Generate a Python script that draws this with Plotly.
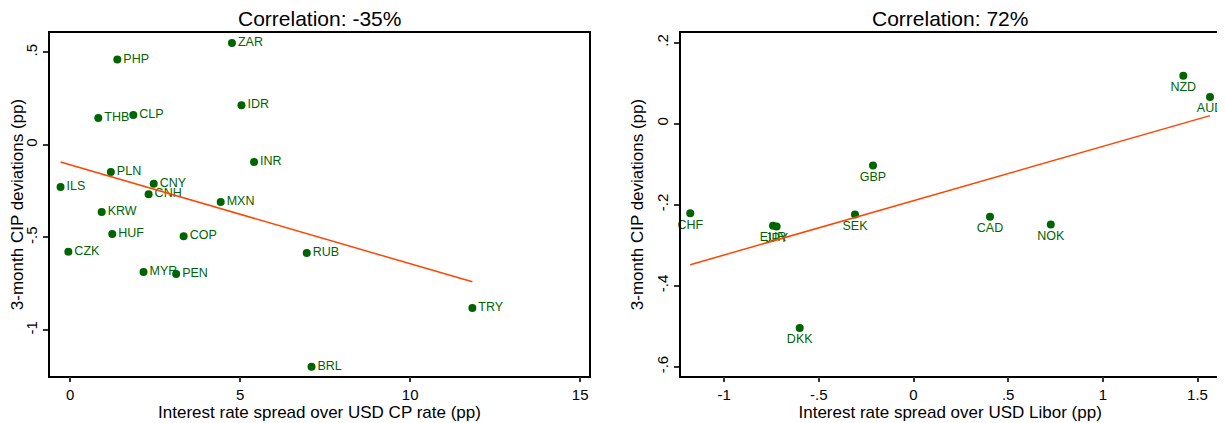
import numpy as np
import plotly.graph_objects as go

# Left panel: emerging-market currencies
em_ccy = ["ZAR", "PHP", "IDR", "THB", "CLP", "INR", "PLN", "ILS", "CNY", "CNH",
          "MXN", "KRW", "HUF", "COP", "CZK", "MYR", "PEN", "RUB", "TRY", "BRL"]
em_spread = [4.76, 1.39, 5.04, 0.83, 1.86, 5.41, 1.20, -0.28, 2.46, 2.31,
             4.43, 0.93, 1.24, 3.34, -0.05, 2.16, 3.12, 6.96, 11.83, 7.10]
em_cip = [0.550, 0.461, 0.214, 0.146, 0.162, -0.092, -0.147, -0.228, -0.210, -0.266,
          -0.309, -0.362, -0.482, -0.493, -0.577, -0.687, -0.698, -0.584, -0.881, -1.198]

# Right panel: G10 currencies
g10_ccy = ["NZD", "AUD", "GBP", "CHF", "EUR", "JPY", "SEK", "DKK", "CAD", "NOK"]
g10_spread = [1.425, 1.566, -0.214, -1.179, -0.742, -0.723, -0.309, -0.601, 0.404, 0.725]
g10_cip = [0.118, 0.066, -0.103, -0.221, -0.252, -0.254, -0.224, -0.504, -0.230, -0.249]

titles = ["Correlation: -35%", "Correlation: 72%"]
xtitles = ["Interest rate spread over USD CP rate (pp)", "Interest rate spread over USD Libor (pp)"]
ytitle = "3-month CIP deviations (pp)"

left_xticks = [0, 5, 10, 15]
left_xlabels = ["0", "5", "10", "15"]
left_yticks = [-1, -0.5, 0, 0.5]
left_ylabels = ["-1", "-.5", "0", ".5"]
right_xticks = [-1, -0.5, 0, 0.5, 1, 1.5]
right_xlabels = ["-1", "-.5", "0", ".5", "1", "1.5"]
right_yticks = [-0.6, -0.4, -0.2, 0, 0.2]
right_ylabels = ["-.6", "-.4", "-.2", "0", ".2"]

GREEN = "#006400"
ORANGE = "#FF4500"
FONT = "Liberation Sans"
W, H = 1225, 423
OFF = 8  # default page body margin


def fit_line(x, y):
    x = np.asarray(x)
    y = np.asarray(y)
    b, a = np.polyfit(x, y, 1)
    xs = np.array([x.min(), x.max()])
    return xs, a + b * xs


def px_x(p):
    return (p - OFF) / W


def px_y(p):
    return 1 - (p - OFF) / H


fig = go.Figure()

fig.add_trace(go.Scatter(
    x=em_spread, y=em_cip, text=em_ccy, mode="markers+text",
    textposition="middle right",
    marker=dict(color=GREEN, size=8),
    textfont=dict(color=GREEN, size=12.5, family=FONT),
    xaxis="x", yaxis="y", showlegend=False, cliponaxis=False))
lx, ly = fit_line(em_spread, em_cip)
fig.add_trace(go.Scatter(x=lx, y=ly, mode="lines", line=dict(color=ORANGE, width=1.5),
                         xaxis="x", yaxis="y", showlegend=False))

fig.add_trace(go.Scatter(
    x=g10_spread, y=g10_cip, text=g10_ccy, mode="markers+text",
    textposition="bottom center",
    marker=dict(color=GREEN, size=8),
    textfont=dict(color=GREEN, size=12.5, family=FONT),
    xaxis="x2", yaxis="y2", showlegend=False, cliponaxis=False))
rx, ry = fit_line(g10_spread, g10_cip)
fig.add_trace(go.Scatter(x=rx, y=ry, mode="lines", line=dict(color=ORANGE, width=1.5),
                         xaxis="x2", yaxis="y2", showlegend=False))

ydom = [px_y(375.7), px_y(33.3)]
d1 = [px_x(50), px_x(589)]
d2 = [px_x(681), px_x(1219.3)]

axis_common = dict(showline=True, linecolor="black", linewidth=1.5, mirror=True,
                   ticks="outside", ticklen=5, tickcolor="#333", tickwidth=1.5,
                   showgrid=False, zeroline=False, automargin=False,
                   tickfont=dict(family=FONT, size=15, color="black"),
                   title_font=dict(family=FONT, size=17, color="black"))

fig.update_layout(
    width=W, height=H,
    margin=dict(l=0, r=0, t=0, b=0),
    paper_bgcolor="white", plot_bgcolor="white",
    font=dict(family=FONT, color="black"),
    xaxis=dict(domain=d1, range=[-0.59, 15.26], tickvals=left_xticks, ticktext=left_xlabels,
               title=dict(text=xtitles[0], standoff=3), anchor="y", **axis_common),
    yaxis=dict(domain=ydom, range=[-1.247, 0.603], tickvals=left_yticks, ticktext=left_ylabels,
               tickangle=-90, title=dict(text=ytitle, standoff=6), anchor="x", **axis_common),
    xaxis2=dict(domain=d2, range=[-1.228, 1.615], tickvals=right_xticks, ticktext=right_xlabels,
                title=dict(text=xtitles[1], standoff=3), anchor="y2", **axis_common),
    yaxis2=dict(domain=ydom, range=[-0.622, 0.223], tickvals=right_yticks, ticktext=right_ylabels,
                tickangle=-90, title=dict(text=ytitle, standoff=6), anchor="x2", **axis_common),
)

for t, d in zip(titles, [d1, d2]):
    fig.add_annotation(text=t, x=(d[0] + d[1]) / 2, y=px_y(18), xref="paper", yref="paper",
                       showarrow=False, xanchor="center", yanchor="middle",
                       font=dict(family=FONT, size=21, color="black"))

fig.write_html("out.html")
